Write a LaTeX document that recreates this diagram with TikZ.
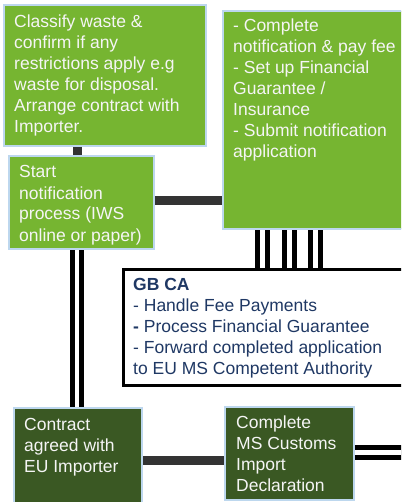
\documentclass[tikz,border=0pt]{standalone}
\usepackage{fontspec}
\setmainfont{Liberation Sans}
\definecolor{grn}{RGB}{118,181,49}
\definecolor{dkg}{RGB}{58,88,35}
\definecolor{lb}{RGB}{189,215,238}
\definecolor{cg}{RGB}{51,51,51}
\definecolor{navy}{RGB}{31,56,100}
\definecolor{wht}{RGB}{245,245,245}
\begin{document}
\begin{tikzpicture}[x=1pt,y=-1pt,
  gbox/.style={draw=lb, line width=2pt, fill=grn, rectangle, inner sep=0pt, anchor=north west},
  dbox/.style={draw=lb, line width=2pt, fill=dkg, rectangle, inner sep=0pt, anchor=north west},
  wbox/.style={draw=black, line width=2.5pt, fill=white, rectangle, inner sep=0pt, anchor=north west},
  txt/.style={text=wht, font=\fontsize{17.5}{21}\selectfont, align=left, anchor=base west, inner sep=0pt},
  ntxt/.style={txt, text=navy},
  conn/.style={draw=cg, line width=9pt},
  dbl/.style={draw=black, line width=5pt, double=white, double distance=5pt},
  dblb/.style={draw=black, line width=5pt, double=white, double distance=4pt}]
\useasboundingbox (0,0) rectangle (401,502);
\clip (0,0) rectangle (401,502);
% boxes
\node[gbox, minimum width=202pt, minimum height=141pt] (b1) at (3,4) {};
\node[gbox, minimum width=145pt, minimum height=93pt] (b2) at (8,155) {};
\node[gbox, minimum width=200pt, minimum height=218pt] (b3) at (222,10) {};
\node[wbox, minimum width=300pt, minimum height=116pt] (gb) at (122,268) {};
\node[dbox, minimum width=128pt, minimum height=120pt] (b4) at (13,407) {};
\node[dbox, minimum width=129pt, minimum height=93pt] (b5) at (224,406) {};
% connectors
\draw[conn] (77.5,0 |- b1.south) -- (77.5,0 |- b2.north);
\draw[conn] (b2.east |- 0,201) -- (b3.west |- 0,201);
\draw[dblb] (77,0 |- b2.south) -- (77,0 |- b4.north);
\draw[dbl] (262.5,0 |- b3.south) -- (262.5,0 |- gb.north);
\draw[dbl] (289.5,0 |- b3.south) -- (289.5,0 |- gb.north);
\draw[dbl] (315.5,0 |- b3.south) -- (315.5,0 |- gb.north);
\draw[conn] (b4.east |- 0,460) -- (b5.west |- 0,460);
\coordinate (rend) at (410,452.5);
\draw[dbl] (b5.east |- 0,452.5) -- (rend);
% texts (anchored at the baseline of their last line)
\node[txt] (t1) at (14,133) {Classify waste \&\\confirm if any\\restrictions apply e.g\\waste for disposal.\\Arrange contract with\\Importer.};
\node[txt] (t2) at (19,241) {Start\\notification\\process (IWS\\online or paper)};
\node[txt] (t3) at (233,158) {- Complete\\notification \& pay fee\\- Set up Financial\\Guarantee /\\Insurance\\- Submit notification\\application};
\node[ntxt] (t4) at (133,374.5) {\textbf{GB CA}\\- Handle Fee Payments\\\textbf{-} Process Financial Guarantee\\- Forward completed application\\to EU MS Competent Authority};
\node[txt] (t5) at (24,472) {Contract\\agreed with\\EU Importer};
\node[txt] (t6) at (236,491) {Complete\\MS Customs\\Import\\Declaration};
\end{tikzpicture}
\end{document}
